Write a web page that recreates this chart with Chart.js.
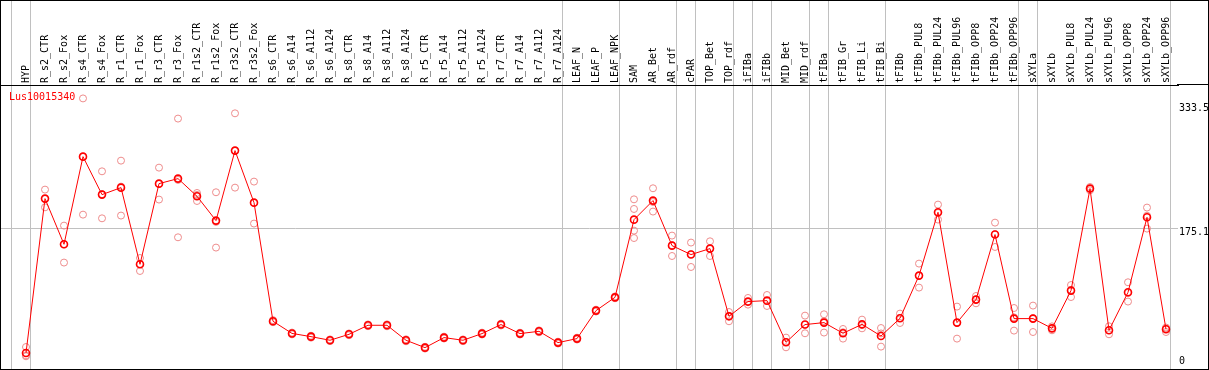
<!DOCTYPE html>
<html>
<head>
<meta charset="utf-8">
<title>Lus10015340</title>
<script src="https://cdn.jsdelivr.net/npm/chart.js@4/dist/chart.umd.min.js"></script>
<style>
  body { margin: 0; background: #fff; }
  #box { width: 1207px; height: 368px; border: 1px solid #000; background: #fff; }
  #chart { display: block; }
</style>
</head>
<body>
<div id="box"><canvas id="chart" width="1207" height="368"></canvas></div>
<script>
// Gene shown in the plot
const geneId = "Lus10015340";

// Sample names (x categories)
const samples = [
  "HYP", "R_s2_CTR", "R_s2_Fox", "R_s4_CTR", "R_s4_Fox", "R_r1_CTR", "R_r1_Fox",
  "R_r3_CTR", "R_r3_Fox", "R_r1s2_CTR", "R_r1s2_Fox", "R_r3s2_CTR", "R_r3s2_Fox",
  "R_s6_CTR", "R_s6_A14", "R_s6_A112", "R_s6_A124", "R_s8_CTR", "R_s8_A14",
  "R_s8_A112", "R_s8_A124", "R_r5_CTR", "R_r5_A14", "R_r5_A112", "R_r5_A124",
  "R_r7_CTR", "R_r7_A14", "R_r7_A112", "R_r7_A124", "LEAF_N", "LEAF_P", "LEAF_NPK",
  "SAM", "AR_Bet", "AR_rdf", "cPAR", "TOP_Bet", "TOP_rdf", "iFIBa", "iFIBb",
  "MID_Bet", "MID_rdf", "tFIBa", "tFIB_Gr", "tFIB_Li", "tFIB_Bi", "tFIBb",
  "tFIBb_PUL8", "tFIBb_PUL24", "tFIBb_PUL96", "tFIBb_OPP8", "tFIBb_OPP24", "tFIBb_OPP96",
  "sXYLa", "sXYLb", "sXYLb_PUL8", "sXYLb_PUL24", "sXYLb_PUL96", "sXYLb_OPP8",
  "sXYLb_OPP24", "sXYLb_OPP96"
];

// Last sample index of each tissue group (gray separators)
const groupEnds = [-1, 0, 28, 31, 34, 35, 37, 38, 39, 41, 42, 45, 52, 53, 60];

// Mean expression per sample
const means = [
  16.6, 213.3, 155.1, 266.8, 218.4, 227.3, 129.6, 232.4, 238.8, 216.3, 185.3, 274.5, 208.2,
  57.0, 41.5, 37.4, 32.8, 40.4, 51.9, 51.9, 32.8, 23.4, 36.2, 32.8, 41.3,
  52.8, 41.3, 44.2, 29.8, 34.9, 70.6, 87.5,
  186.5, 210.8, 153.4, 142.0, 149.6, 63.3, 82.1, 83.3, 30.2, 52.8, 55.3, 41.7, 53.1, 38.2,
  60.8, 115.2, 195.9, 55.3, 84.6, 167.5, 60.4,
  60.4, 48.0, 96.1, 226.1, 45.5, 93.9, 189.5, 46.8
];

// Individual replicates
const rep1 = [
  24.2, 224.8, 178.9, 341.0, 248.1, 261.7, 137.6, 252.8, 315.3, 220.5, 221.4, 322.0, 235.0,
  58.5, 42.6, 38.6, 33.9, 41.5, 53.0, 53.1, 34.0, 24.5, 37.4, 33.9, 42.5,
  54.0, 42.4, 45.4, 31.0, 36.1, 71.8, 88.7,
  212.4, 226.5, 166.2, 157.3, 158.9, 68.8, 86.7, 90.5, 36.2, 64.2, 65.9, 47.2, 59.1, 48.4,
  66.8, 130.5, 205.7, 75.7, 89.2, 182.7, 73.9,
  77.0, 50.5, 103.2, 228.1, 50.6, 106.7, 201.9, 47.9
];
const rep2 = [
  12.4, 202.2, 131.8, 192.9, 188.2, 191.7, 121.1, 212.1, 164.0, 210.3, 150.9, 227.3, 181.5,
  55.8, 40.3, 36.1, 31.7, 39.2, 50.7, 50.6, 31.5, 22.2, 35.0, 31.6, 40.1,
  51.6, 40.1, 43.0, 28.6, 33.7, 69.4, 86.3,
  163.1, 196.8, 140.2, 126.2, 140.2, 57.0, 78.2, 76.5, 23.8, 41.7, 42.6, 34.9, 48.0, 24.7,
  54.8, 99.9, 186.6, 34.9, 79.9, 151.7, 45.1,
  43.3, 45.5, 87.9, 223.9, 40.4, 82.1, 175.1, 43.3
];
const rep3 = [
  13.6, 213.0, 155.0, 266.7, 219.0, 228.6, 130.0, 232.0, 237.1, 218.0, 183.6, 274.2, 208.0,
  56.7, 41.6, 37.5, 32.8, 40.5, 52.0, 52.0, 32.9, 23.5, 36.2, 32.9, 41.3,
  52.8, 41.4, 44.2, 29.8, 34.9, 70.6, 87.5,
  200.1, 209.0, 154.0, 142.5, 149.7, 64.0, 81.5, 83.0, 30.6, 52.5, 57.0, 43.0, 52.0, 41.5,
  61.0, 115.0, 195.0, 55.0, 84.7, 168.0, 62.0,
  61.0, 48.0, 97.0, 226.0, 45.5, 93.0, 191.5, 49.0
];
// Fourth replicate (SAM only)
const rep4 = samples.map((s) => (s === "SAM" ? 172.5 : null));

// Y axis labels
const yTicks = [0, 175.1, 333.5];
const yMax = 358.1;

const monoFont = "'DejaVu Sans Mono', 'Liberation Mono', monospace";

function toPoints(arr) {
  return arr.map((v, i) => ({ x: i, y: v })).filter((p) => p.y !== null);
}

// Header line across the y labels and gene name
const decorations = {
  id: "decorations",
  afterDraw(chart) {
    const { ctx, chartArea } = chart;
    ctx.save();
    ctx.strokeStyle = "#000";
    ctx.lineWidth = 1;
    ctx.beginPath();
    ctx.moveTo(chartArea.right - 1, chartArea.top - 0.5);
    ctx.lineTo(chart.width, chartArea.top - 0.5);
    ctx.stroke();
    ctx.fillStyle = "#ff0000";
    ctx.font = "10px " + monoFont;
    ctx.textBaseline = "middle";
    ctx.fillText(geneId, chartArea.left + 8, chartArea.top + 12);
    ctx.restore();
  },
};

const xMin = -25 / 19;
const xMax = 1152 / 19;

const noPadding = (scale) => {
  scale.paddingLeft = 0;
  scale.paddingRight = 0;
  scale.paddingTop = 0;
  scale.paddingBottom = 0;
};

// separator axis (top: through header, bottom: small stub to the frame)
function separatorAxis(position, len, onChart) {
  return {
    type: "linear",
    position: position,
    weight: 0,
    min: xMin,
    max: xMax,
    afterBuildTicks: (scale) => {
      scale.ticks = groupEnds.map((g) => ({ value: g + 0.24 }));
    },
    afterFit: (scale) => {
      scale.height = position === "top" ? 0 : len;
      noPadding(scale);
    },
    grid: {
      display: true,
      color: "#c0c0c0",
      lineWidth: 1,
      drawTicks: true,
      tickLength: len,
      drawOnChartArea: onChart,
    },
    border: { display: false },
    ticks: { display: false },
  };
}

const repStyle = {
  type: "scatter",
  showLine: false,
  pointRadius: 3.5,
  pointBorderWidth: 1,
  pointBorderColor: "rgb(238, 140, 140)",
  pointBackgroundColor: "rgba(0,0,0,0)",
  clip: false,
};

const ctx = document.getElementById("chart").getContext("2d");
new Chart(ctx, {
  type: "line",
  data: {
    datasets: [
      {
        label: "mean",
        data: toPoints(means),
        borderColor: "#ff0000",
        borderWidth: 1,
        pointRadius: 3.5,
        pointBorderWidth: 1.6,
        pointBorderColor: "#ff0000",
        pointBackgroundColor: "rgba(0,0,0,0)",
        tension: 0,
        clip: false,
      },
      { ...repStyle, label: "rep1", data: toPoints(rep1) },
      { ...repStyle, label: "rep2", data: toPoints(rep2) },
      { ...repStyle, label: "rep3", data: toPoints(rep3) },
      { ...repStyle, label: "rep4", data: toPoints(rep4) },
    ],
  },
  plugins: [decorations],
  options: {
    responsive: false,
    animation: false,
    devicePixelRatio: 1,
    layout: { autoPadding: false, padding: 0 },
    plugins: {
      legend: { display: false },
      tooltip: { enabled: false },
    },
    scales: {
      x: {
        type: "linear",
        position: "top",
        weight: 1,
        min: xMin,
        max: xMax,
        afterBuildTicks: (scale) => {
          scale.ticks = samples.map((s, i) => ({ value: i }));
        },
        afterFit: (scale) => {
          scale.height = 84;
          noPadding(scale);
        },
        grid: { display: false, drawTicks: false },
        border: { display: true, color: "#000", width: 1 },
        ticks: {
          autoSkip: false,
          minRotation: 90,
          maxRotation: 90,
          padding: 2,
          labelOffset: 12,
          color: "#000",
          font: { family: monoFont, size: 10 },
          callback: (value) => samples[value],
        },
      },
      x2: separatorAxis("top", 84, true),
      x3: separatorAxis("bottom", 3, false),
      y: {
        type: "linear",
        position: "right",
        min: 0,
        max: yMax,
        afterBuildTicks: (scale) => {
          scale.ticks = yTicks.map((v) => ({ value: v }));
        },
        afterFit: (scale) => {
          scale.width = 30;
          noPadding(scale);
        },
        grid: {
          drawTicks: false,
          color: (c) => (c.tick && c.tick.value === 175.1 ? "#c0c0c0" : "rgba(0,0,0,0)"),
        },
        border: { display: false },
        ticks: {
          padding: 1,
          labelOffset: 4,
          color: "#000",
          font: (c) => ({
            family: monoFont,
            size: 10,
            lineHeight: c.tick && c.tick.value === 0 ? "16.4px" : 1.2,
          }),
          callback: (value) => (value === 0 ? ["0", ""] : String(value)),
        },
      },
    },
  },
});
</script>
</body>
</html>
